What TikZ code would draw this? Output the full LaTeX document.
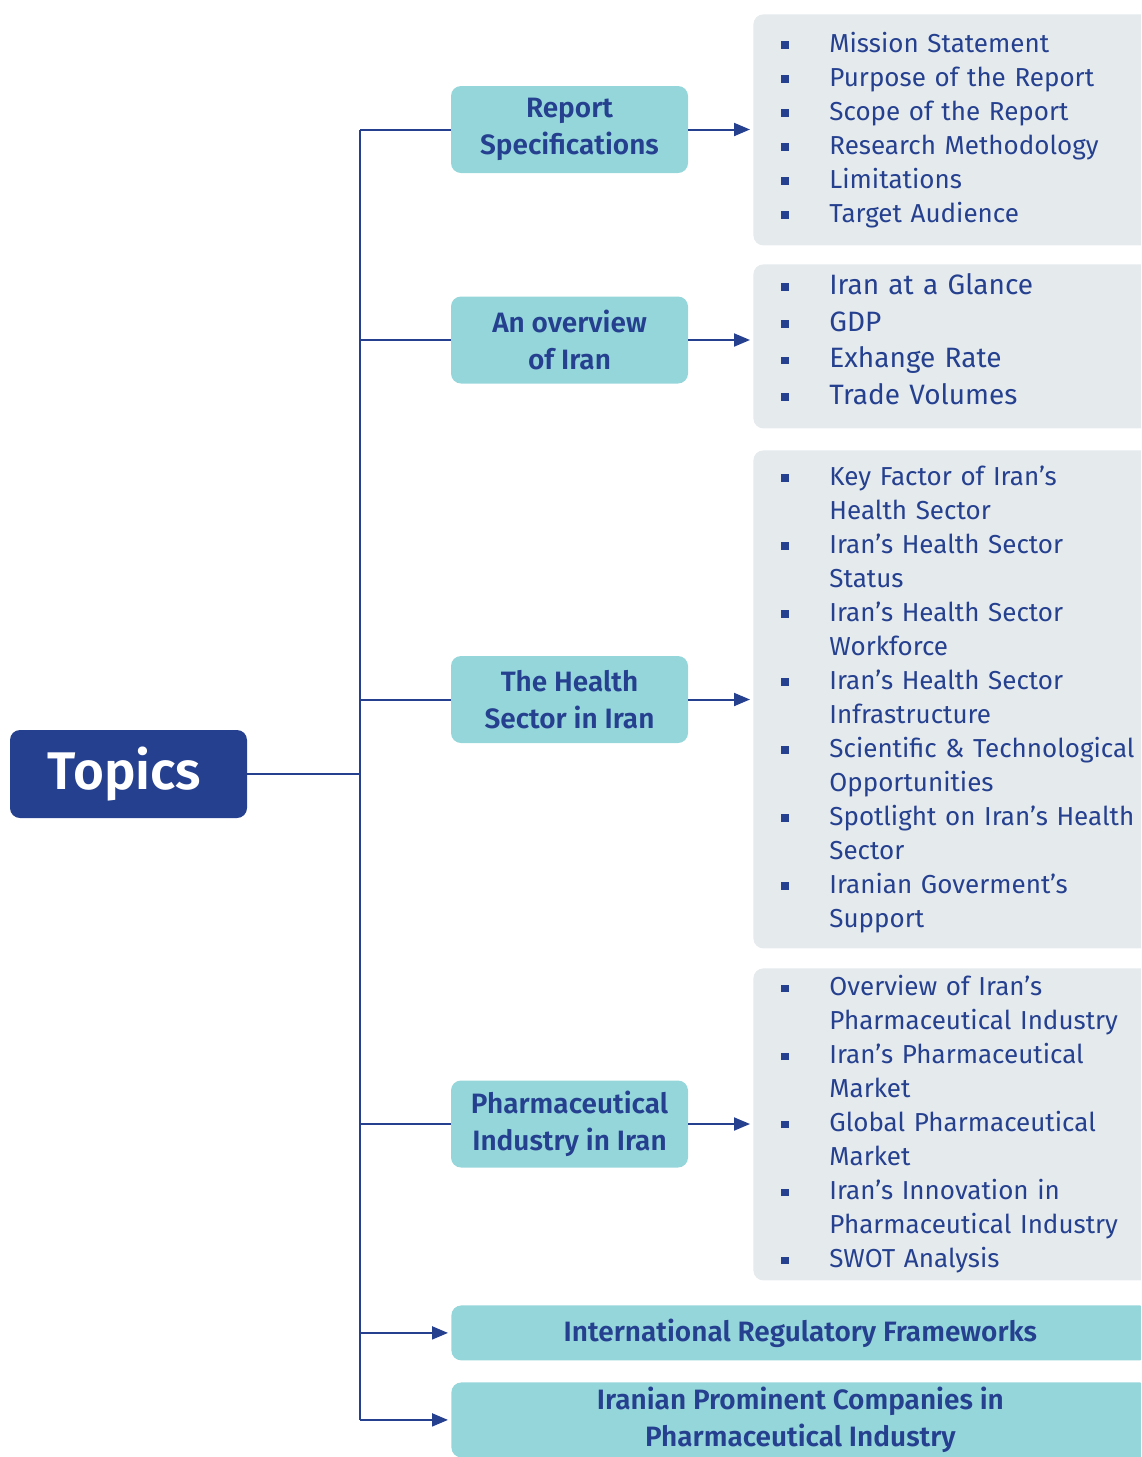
\documentclass[tikz,border=0pt]{standalone}
\usepackage{fontspec}
\setmainfont{Fira Sans}[BoldFont = {Fira Sans SemiBold}]
\usetikzlibrary{arrows.meta}

\definecolor{navy}{HTML}{25408F}
\definecolor{topicteal}{HTML}{95D6DA}
\definecolor{listgray}{HTML}{E5EAED}

\newcommand{\bul}{\makebox[24pt][l]{\rule[1.8pt]{3.8pt}{3.8pt}}}
\newcommand{\cont}{\hspace*{24pt}}

\begin{document}
\begin{tikzpicture}[x = 0.5pt, y = -0.5pt,
	link/.style = {navy, line width = 1pt},
	arrowlink/.style = {link, -{Triangle[length = 8pt, width = 6.5pt]}, shorten > = 1.5pt},
	headbox/.style = {fill = topicteal, rounded corners = 5pt, text = navy, align = center, inner sep = 0pt,
		font = \fontsize{14}{18.5}\selectfont\bfseries, minimum width = 118.5pt, minimum height = 43.5pt},
	listbox/.style = {fill = listgray, rounded corners = 5pt, text = navy, align = left, anchor = north west,
		font = \fontsize{13}{17}\selectfont, text width = 185pt, inner xsep = 14pt, inner ysep = 0pt}]

\useasboundingbox (0, 0) rectangle (1141, 1457);
\clip (0, 0) rectangle (1141, 1457);

\node [fill = navy, rounded corners = 5pt, text = white, font = \fontsize{26.5}{30}\selectfont\bfseries,
	minimum width = 118.5pt, minimum height = 44pt] (topics) at (128.5, 774) {\hspace*{-4pt}Topics};

\node [headbox] (spec) at (569.5, 129.5) {Report\\Specifications};
\node [headbox] (overview) at (569.5, 340) {An overview\\of Iran};
\node [headbox] (health) at (569.5, 699.5) {The Health\\Sector in Iran};
\node [headbox] (pharma) at (569.5, 1124) {Pharmaceutical\\Industry in Iran};
\node [headbox, anchor = north west, minimum width = 349pt, minimum height = 27.5pt] (frame) at (451, 1305)
	{International Regulatory Frameworks};
\node [headbox, anchor = north west, minimum width = 349pt, minimum height = 37.5pt] (firms) at (451, 1382)
	{Iranian Prominent Companies in\\Pharmaceutical Industry};

\node [listbox, minimum height = 115.5pt] (specs) at (753, 14) {%
	\bul Mission Statement\\
	\bul Purpose of the Report\\
	\bul Scope of the Report\\
	\bul Research Methodology\\
	\bul Limitations\\
	\bul Target Audience};
\node [listbox, minimum height = 82pt, text depth = 62.4pt, font = \fontsize{14}{18.3}\selectfont] (facts) at (753, 264) {%
	\bul Iran at a Glance\\
	\bul GDP\\
	\bul Exhange Rate\\
	\bul Trade Volumes};
\node [listbox, minimum height = 249pt] (sector) at (753, 450) {%
	\bul Key Factor of Iran’s\\
	\cont Health Sector\\
	\bul Iran’s Health Sector\\
	\cont Status\\
	\bul Iran’s Health Sector\\
	\cont Workforce\\
	\bul Iran’s Health Sector\\
	\cont Infrastructure\\
	\bul Scientific \& Technological\\
	\cont Opportunities\\
	\bul Spotlight on Iran’s Health\\
	\cont Sector\\
	\bul Iranian Goverment’s\\
	\cont Support};
\node [listbox, minimum height = 156pt] (industry) at (753, 968) {%
	\bul Overview of Iran’s\\
	\cont Pharmaceutical Industry\\
	\bul Iran’s Pharmaceutical\\
	\cont Market\\
	\bul Global Pharmaceutical\\
	\cont Market\\
	\bul Iran’s Innovation in\\
	\cont Pharmaceutical Industry\\
	\bul SWOT Analysis};

\coordinate (top) at (360, 129.5);
\coordinate (bottom) at (360, 1420);

\draw [link] (top) -- (bottom);
\draw [link] (topics) -- (topics -| top);
\foreach \n in {spec, overview, health, pharma}
	\draw [link] (\n.west -| top) -- (\n.west);
\foreach \n in {frame, firms}
	\draw [arrowlink] (\n.west -| top) -- (\n.west);

\draw [arrowlink] (spec) -- (spec -| specs.west);
\draw [arrowlink] (overview) -- (overview -| facts.west);
\draw [arrowlink] (health) -- (health -| sector.west);
\draw [arrowlink] (pharma) -- (pharma -| industry.west);

\end{tikzpicture}
\end{document}
